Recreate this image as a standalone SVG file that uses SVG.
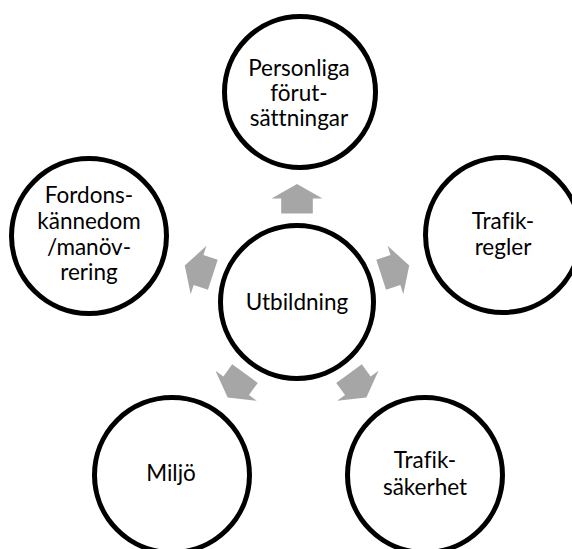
<svg xmlns="http://www.w3.org/2000/svg" width="572" height="549" viewBox="0 0 572 549">
<style>
.node circle{fill:#fff;stroke:#000;stroke-width:5}
.node text{font-family:"Lato","Open Sans","Liberation Sans",sans-serif;font-size:22.5px;fill:#000;text-anchor:middle;font-variant-ligatures:none}
.arrow{fill:#a6a6a6}
</style>
<defs>
<path id="arr" d="M0,-14.5 L25.5,0 L15.8,0 L15.8,15 L-15.8,15 L-15.8,0 L-25.5,0 Z"/>
</defs>
<rect width="572" height="549" fill="#fff"/>
<g id="connectors">
<use href="#arr" class="arrow" transform="translate(297,302) rotate(0) translate(0,-103.5)"/>
<use href="#arr" class="arrow" transform="translate(297,302) rotate(72) translate(0,-103.5)"/>
<use href="#arr" class="arrow" transform="translate(297,302) rotate(144) translate(0,-103.5)"/>
<use href="#arr" class="arrow" transform="translate(297,302) rotate(216) translate(0,-103.5)"/>
<use href="#arr" class="arrow" transform="translate(297,302) rotate(288) translate(0,-103.5)"/>
</g>
<g id="hub" class="node">
<circle cx="297" cy="302" r="76.5"/>
<text x="297" y="310">Utbildning</text>
</g>
<g id="personliga" class="node">
<circle cx="300" cy="92" r="75.5"/>
<text x="299" y="76">Personliga</text>
<text x="299" y="101">förut-</text>
<text x="299" y="126">sättningar</text>
</g>
<g id="trafikregler" class="node">
<circle cx="503" cy="235" r="77.5"/>
<text x="503" y="229">Trafik-</text>
<text x="503" y="255">regler</text>
</g>
<g id="trafiksakerhet" class="node">
<circle cx="425" cy="475" r="77.5"/>
<text x="425" y="468">Trafik-</text>
<text x="425" y="495">säkerhet</text>
</g>
<g id="miljo" class="node">
<circle cx="172" cy="475" r="77.5"/>
<text x="171" y="481">Miljö</text>
</g>
<g id="fordons" class="node">
<circle cx="89" cy="236" r="77.5"/>
<text x="89" y="203">Fordons-</text>
<text x="89" y="229">kännedom</text>
<text x="89" y="255">/manöv-</text>
<text x="89" y="280">rering</text>
</g>
</svg>
